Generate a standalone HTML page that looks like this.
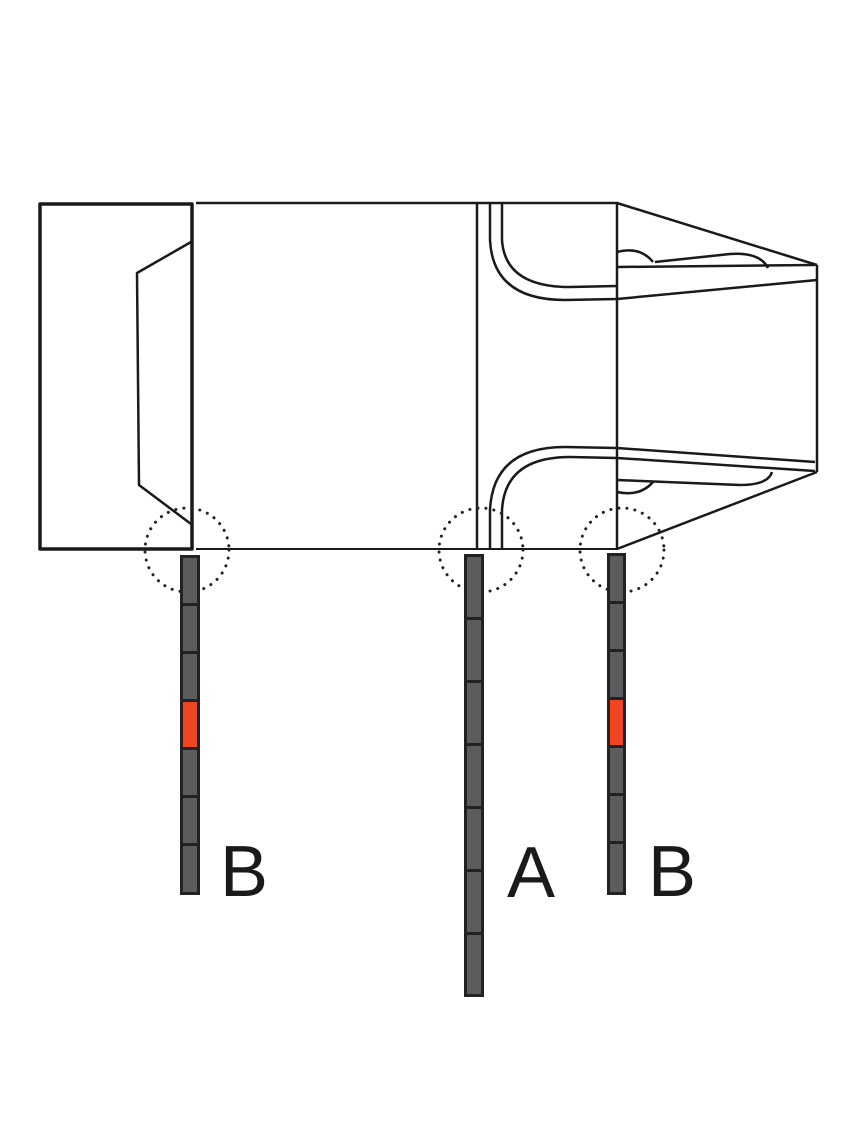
<!DOCTYPE html>
<html><head><style>html,body{margin:0;padding:0;background:#fff}</style></head>
<body>
<svg width="844" height="1124" viewBox="0 0 844 1124" xmlns="http://www.w3.org/2000/svg">
<g fill="none" stroke="#1a1a1a" stroke-linejoin="round">
<rect x="40" y="204" width="152" height="345" stroke-width="3.5"/>
<polyline points="191,242 137,273 139,485 191,524" stroke-width="2.5"/>
<line x1="196" y1="203" x2="618" y2="203" stroke-width="2.5"/>
<line x1="196" y1="549" x2="618" y2="549" stroke-width="2"/>
<line x1="477" y1="203" x2="477" y2="549" stroke-width="2.5"/>
<line x1="617" y1="203" x2="617" y2="549" stroke-width="2.5"/>
<line x1="617" y1="203" x2="817" y2="265" stroke-width="2.5"/>
<line x1="617" y1="549" x2="817" y2="472" stroke-width="2.5"/>
<line x1="817" y1="265" x2="817" y2="472" stroke-width="2.5"/>
<path d="M490,203 L490,240 Q493,300 565,300 L617,299 L817,280" stroke-width="2.5"/>
<path d="M502,203 L502,240 Q505,287 570,287 L617,286" stroke-width="2.5"/>
<line x1="617" y1="267" x2="815" y2="265" stroke-width="2.5"/>
<path d="M617,252 Q640,246 653,262" stroke-width="2.5"/>
<path d="M655,262 L730,254 Q760,252 768,268" stroke-width="2.5"/>
<path d="M490,549 L490,510 Q493,447 565,447 L617,448 L815,462" stroke-width="2.5"/>
<path d="M502,549 L502,510 Q505,457 570,457 L617,458 L815,471" stroke-width="2.5"/>
<path d="M617,492 Q640,497 653,482" stroke-width="2.5"/>
<path d="M617,480 L740,485 Q768,485 772,472" stroke-width="2.5"/>
</g>
<g fill="none" stroke="#222" stroke-width="3" stroke-dasharray="0.1 8" stroke-linecap="round">
<circle cx="187" cy="550" r="42"/>
<circle cx="481" cy="550" r="42"/>
<circle cx="622" cy="550" r="42"/>
</g>
<g stroke="#222" stroke-width="3">
<rect x="181.5" y="556.5" width="17" height="48" fill="#5a5c5e"/>
<rect x="181.5" y="604.5" width="17" height="48" fill="#5a5c5e"/>
<rect x="181.5" y="652.5" width="17" height="48" fill="#5a5c5e"/>
<rect x="181.5" y="700.5" width="17" height="48" fill="#f04521"/>
<rect x="181.5" y="748.5" width="17" height="48" fill="#5a5c5e"/>
<rect x="181.5" y="796.5" width="17" height="48" fill="#5a5c5e"/>
<rect x="181.5" y="844.5" width="17" height="49" fill="#5a5c5e"/>
<rect x="465.5" y="555.5" width="17" height="63" fill="#5a5c5e"/>
<rect x="465.5" y="618.5" width="17" height="63" fill="#5a5c5e"/>
<rect x="465.5" y="681.5" width="17" height="63" fill="#5a5c5e"/>
<rect x="465.5" y="744.5" width="17" height="63" fill="#5a5c5e"/>
<rect x="465.5" y="807.5" width="17" height="63" fill="#5a5c5e"/>
<rect x="465.5" y="870.5" width="17" height="63" fill="#5a5c5e"/>
<rect x="465.5" y="933.5" width="17" height="62" fill="#5a5c5e"/>
<rect x="608.5" y="554.5" width="16" height="48" fill="#5a5c5e"/>
<rect x="608.5" y="602.5" width="16" height="48" fill="#5a5c5e"/>
<rect x="608.5" y="650.5" width="16" height="48" fill="#5a5c5e"/>
<rect x="608.5" y="698.5" width="16" height="48" fill="#f04521"/>
<rect x="608.5" y="746.5" width="16" height="48" fill="#5a5c5e"/>
<rect x="608.5" y="794.5" width="16" height="48" fill="#5a5c5e"/>
<rect x="608.5" y="842.5" width="16" height="51" fill="#5a5c5e"/>
</g>
<g font-family="Liberation Sans, sans-serif" font-size="72" fill="#1a1a1a">
<text x="220" y="896">B</text>
<text x="507" y="897">A</text>
<text x="648" y="896">B</text>
</g>
</svg>
</body></html>
